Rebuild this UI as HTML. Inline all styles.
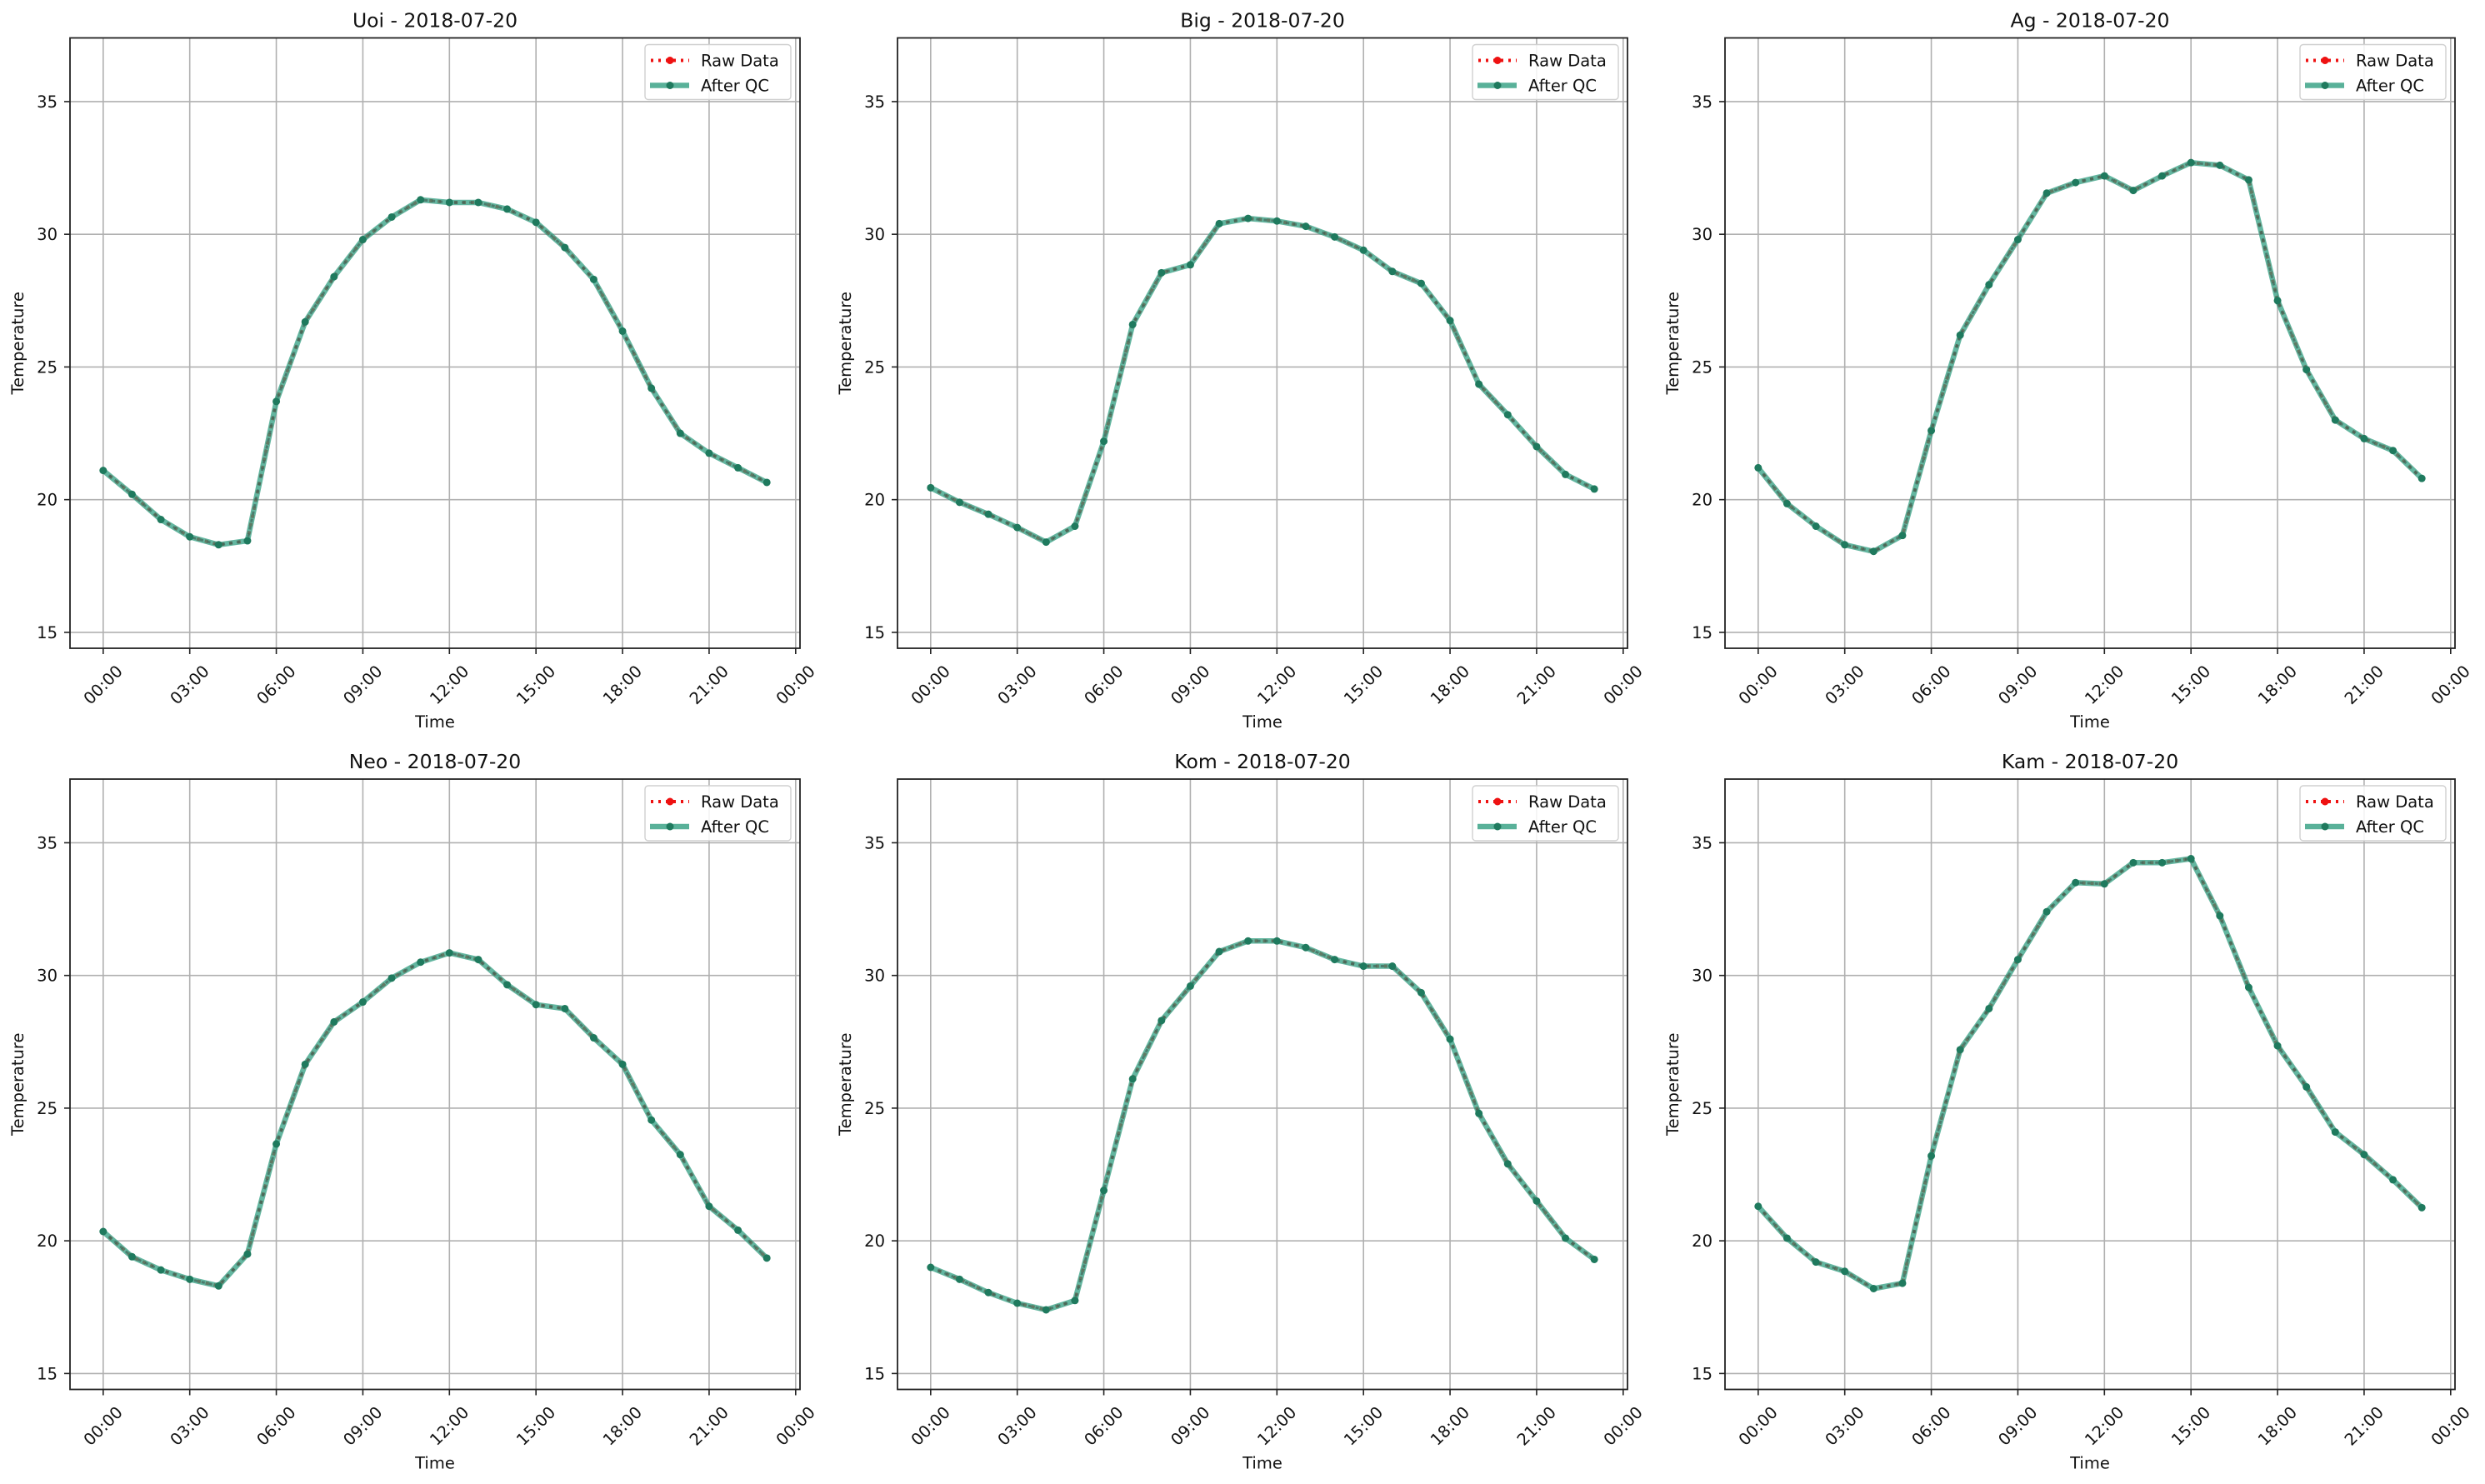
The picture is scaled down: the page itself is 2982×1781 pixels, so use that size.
<!DOCTYPE html>
<html><head><meta charset="utf-8"><style>
html,body{margin:0;padding:0;background:#fff}
svg{display:block;font-family:"DejaVu Sans","Liberation Sans",sans-serif}
</style></head><body>
<svg id="fig" width="2982" height="1781" viewBox="0 0 2982 1781" xmlns="http://www.w3.org/2000/svg"></svg>
<script>
const stations = ["Uoi","Big","Ag","Neo","Kom","Kam"];
const dateLabel = "2018-07-20";
const hours = [0,1,2,3,4,5,6,7,8,9,10,11,12,13,14,15,16,17,18,19,20,21,22,23];
const xTickHours = [0,3,6,9,12,15,18,21,24];
const xTickLabels = ["00:00","03:00","06:00","09:00","12:00","15:00","18:00","21:00","00:00"];
const yTicks = [15,20,25,30,35];
const uoiTemps = [21.1,20.2,19.25,18.6,18.3,18.45,23.7,26.7,28.4,29.8,30.65,31.3,31.2,31.2,30.95,30.45,29.5,28.3,26.35,24.2,22.5,21.75,21.2,20.65];
const bigTemps = [20.45,19.9,19.45,18.95,18.4,19.0,22.2,26.6,28.55,28.85,30.4,30.6,30.5,30.3,29.9,29.4,28.6,28.15,26.75,24.35,23.2,22.0,20.95,20.4];
const agTemps = [21.2,19.85,19.0,18.3,18.05,18.65,22.6,26.2,28.1,29.8,31.55,31.95,32.2,31.65,32.2,32.7,32.6,32.05,27.5,24.9,23.0,22.3,21.85,20.8];
const neoTemps = [20.35,19.4,18.9,18.55,18.3,19.5,23.65,26.65,28.25,29.0,29.9,30.5,30.85,30.6,29.65,28.9,28.75,27.65,26.65,24.55,23.25,21.3,20.4,19.35];
const komTemps = [19.0,18.55,18.05,17.65,17.4,17.75,21.9,26.1,28.3,29.6,30.9,31.3,31.3,31.05,30.6,30.35,30.35,29.35,27.6,24.8,22.9,21.5,20.1,19.3];
const kamTemps = [21.3,20.1,19.2,18.85,18.2,18.4,23.2,27.2,28.75,30.6,32.4,33.5,33.45,34.25,34.25,34.4,32.25,29.55,27.35,25.8,24.1,23.25,22.3,21.25];
const rawSeries = [uoiTemps,bigTemps,agTemps,neoTemps,komTemps,kamTemps];
const qcSeries = [uoiTemps,bigTemps,agTemps,neoTemps,komTemps,kamTemps];

const NS="http://www.w3.org/2000/svg";
const svg=document.getElementById('fig');
function mk(tag,attrs,parent){const e=document.createElementNS(NS,tag);for(const k in attrs)e.setAttribute(k,attrs[k]);(parent||svg).appendChild(e);return e;}

const AX_W=876, AX_H=732.5, X0=84, Y0=45.5, DX=993, DY=889.5;
const XMIN=-1.15, XMAX=24.15, YMIN=14.4, YMAX=37.4;

stations.forEach((st,i)=>{
  const col=i%3,row=Math.floor(i/3);
  const L=X0+col*DX, T=Y0+row*DY, R=L+AX_W, B=T+AX_H;
  const sx=h=>L+(h-XMIN)/(XMAX-XMIN)*AX_W;
  const sy=v=>B-(v-YMIN)/(YMAX-YMIN)*AX_H;
  const g=mk('g',{});
  
  
  xTickHours.forEach((h,k)=>{
    const gl=mk('line',{x1:sx(h),x2:sx(h),y1:T,y2:B,stroke:'#b0b0b0','stroke-width':1.6},g);
    
    
    const tk=mk('line',{x1:sx(h),x2:sx(h),y1:B,y2:B+7,stroke:'#222','stroke-width':1.6},g);
    
    
    const cx=sx(h), cy=B+44;
    const tl=mk('text',{x:cx,y:cy,'font-size':19.5,fill:'#111','text-anchor':'middle','dominant-baseline':'central',transform:`rotate(-45 ${cx} ${cy})`},g);
    
    
    tl.textContent=xTickLabels[k];
  });
  yTicks.forEach(v=>{
    const gl=mk('line',{x1:L,x2:R,y1:sy(v),y2:sy(v),stroke:'#b0b0b0','stroke-width':1.6},g);
    
    
    const tk=mk('line',{x1:L-7,x2:L,y1:sy(v),y2:sy(v),stroke:'#222','stroke-width':1.6},g);
    
    
    const tl=mk('text',{x:L-15,y:sy(v)+7,'font-size':19.5,fill:'#111','text-anchor':'end'},g);
    
    
    tl.textContent=String(v);
  });
  const pts=arr=>arr.map((v,k)=>sx(hours[k]).toFixed(1)+','+sy(v).toFixed(1)).join(' ');
  const raw=mk('polyline',{points:pts(rawSeries[i]),fill:'none',stroke:'#ee1111','stroke-width':4,'stroke-dasharray':'4 6'},g);
  
  
  const qc=mk('polyline',{points:pts(qcSeries[i]),fill:'none',stroke:'#2f9e80','stroke-opacity':0.75,'stroke-width':6.5,'stroke-linejoin':'round'},g);
  
  
  const dash=mk('polyline',{points:pts(qcSeries[i]),fill:'none',stroke:'#3f5f52','stroke-opacity':0.65,'stroke-width':3,'stroke-dasharray':'4 5'},g);
  
  
  qcSeries[i].forEach((v,k)=>{
    const c=mk('circle',{cx:sx(hours[k]),cy:sy(v),r:4.5,fill:'#1f7a5e'},g);
    
    
  });
  const sp=mk('rect',{x:L,y:T,width:AX_W,height:AX_H,fill:'none',stroke:'#222','stroke-width':1.8},g);
  
  
  const ti=mk('text',{x:L+AX_W/2,y:T-13,'font-size':23.5,fill:'#111','text-anchor':'middle'},g);
  
  
  ti.textContent=st+' - '+dateLabel;
  const xl=mk('text',{x:L+AX_W/2,y:B+95,'font-size':19.5,fill:'#111','text-anchor':'middle'},g);
  
  
  xl.textContent='Time';
  const ylx=L-56, yly=T+AX_H/2;
  const yl=mk('text',{x:ylx,y:yly,'font-size':19.5,fill:'#111','text-anchor':'middle',transform:`rotate(-90 ${ylx} ${yly})`},g);
  
  
  yl.textContent='Temperature';
  const lg=mk('g',{},g);
  
  
  const lx=R-186, ly=T+8;
  mk('rect',{x:lx,y:ly,width:175,height:66,rx:4,fill:'#fff','fill-opacity':0.85,stroke:'#d0d0d0','stroke-width':1.4},lg);
  const e1=mk('g',{},lg);
  
  
  mk('line',{x1:lx+7,x2:lx+53,y1:ly+19,y2:ly+19,stroke:'#ee1111','stroke-width':4,'stroke-dasharray':'3 6'},e1);
  mk('circle',{cx:lx+30,cy:ly+19,r:4.5,fill:'#ee1111'},e1);
  const t1=mk('text',{x:lx+67,y:ly+26,'font-size':19.5,fill:'#111'},e1);
  t1.textContent='Raw Data';
  const e2=mk('g',{},lg);
  
  
  mk('line',{x1:lx+6,x2:lx+53,y1:ly+49,y2:ly+49,stroke:'#2f9e80','stroke-opacity':0.8,'stroke-width':6.5},e2);
  mk('circle',{cx:lx+30,cy:ly+49,r:4.5,fill:'#1f7a5e'},e2);
  const t2=mk('text',{x:lx+67,y:ly+56,'font-size':19.5,fill:'#111'},e2);
  t2.textContent='After QC';
});
</script>
</body></html>
